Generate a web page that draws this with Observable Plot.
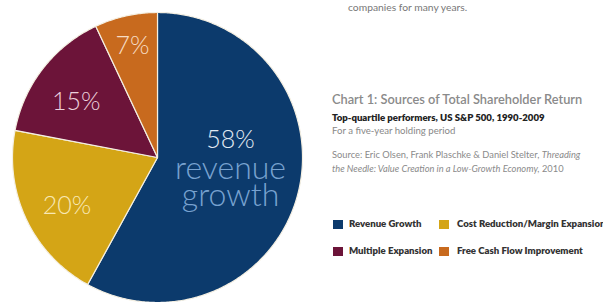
<!DOCTYPE html>
<html>
<head>
<meta charset="utf-8">
<script src="https://cdn.jsdelivr.net/npm/d3@7"></script>
<script src="https://cdn.jsdelivr.net/npm/@observablehq/plot@0.6"></script>
<style>
  html, body { margin: 0; padding: 0; background: #fff; }
  body { width: 603px; height: 302px; overflow: hidden; position: relative; font-family: Lato, "Open Sans", sans-serif; }
  #chart { position: absolute; left: 0; top: 0; }
  .t { position: absolute; white-space: nowrap; }
  #lead { left: 348px; top: 1px; font-size: 10.3px; color: #777; }
  #title { left: 332px; top: 91px; font-size: 12.8px; color: #8a8a8a; font-weight: 600; }
  #sub { left: 332px; top: 112px; font-size: 9.6px; color: #222; font-weight: 800; }
  #sub2 { left: 332px; top: 125px; font-size: 9.6px; color: #888; }
  #src { left: 332px; top: 148px; font-size: 9.3px; color: #8a8a8a; line-height: 13.5px; }
  #legend { position: absolute; left: 333px; top: 220px; }
  .li { position: absolute; white-space: nowrap; font-size: 9.6px; font-weight: 800; color: #333; }
  .sw { position: absolute; width: 10px; height: 9px; }
</style>
</head>
<body>
<div id="chart"></div>
<div class="t" id="lead">companies for many years.</div>
<div class="t" id="title"></div>
<div class="t" id="sub"></div>
<div class="t" id="sub2"></div>
<div class="t" id="src"></div>
<div id="legend"></div>
<script>
// ---- data ----
const categories = ["Revenue Growth", "Cost Reduction/Margin Expansion", "Multiple Expansion", "Free Cash Flow Improvement"];
const shares = [58, 20, 15, 7];
const sliceLabels = ["58%", "20%", "15%", "7%"];
const subLabels = [["revenue", "growth"], [], [], []];
const colors = ["#0c3a6c", "#d4a516", "#6c1439", "#c86a1e"];
const labelColors = ["#e2eaf3", "#f8e8b4", "#ecd0dc", "#f6dcc4"];
const subLabelColor = "#78a2d0";
const titleText = "Chart 1: Sources of Total Shareholder Return";
const subtitleText = "Top-quartile performers, US S&P 500, 1990-2009";
const subtitle2Text = "For a five-year holding period";
const sourcePlain = "Source: Eric Olsen, Frank Plaschke & Daniel Stelter, ";
const sourceItalic1 = "Threading";
const sourceItalic2 = "the Needle: Value Creation in a Low-Growth Economy,";
const sourceYear = " 2010";

// ---- geometry from data (angles clockwise from 12 o'clock) ----
const pie = d3.pie().sort(null).value(d => d)(shares);
const pt = (a, r) => [r * Math.sin(a), r * Math.cos(a)];
function slicePoly(s) {
  const n = Math.max(2, Math.ceil((s.endAngle - s.startAngle) / 0.01));
  const ring = [[0, 0]];
  for (let i = 0; i <= n; i++) ring.push(pt(s.startAngle + (s.endAngle - s.startAngle) * i / n, 1));
  ring.push([0, 0]);
  return ring;
}
const features = pie.map((s, i) => ({
  type: "Feature",
  properties: {cat: categories[i], i},
  geometry: {type: "Polygon", coordinates: [slicePoly(s)]}
}));
const outline = {type: "Polygon", coordinates: [d3.range(0, 361, 2).map(a => pt(a * Math.PI / 180, 1))]};
const labelRadius = [0.52, 0.69, 0.71, 0.79];
const labelDy = [-36, 6, 8, 0];
const labels = pie.map((s, i) => {
  const mid = (s.startAngle + s.endAngle) / 2;
  const [x, y] = pt(mid, labelRadius[i]);
  return {x, y, label: sliceLabels[i], i};
});
const subRows = [];
labels.forEach(d => subLabels[d.i].forEach((w, j) => subRows.push({x: d.x, y: d.y, text: w, j})));

const chart = Plot.plot({
  width: 320,
  height: 302,
  marginLeft: 12, marginRight: 18, marginTop: 12, marginBottom: 0,
  projection: {type: "reflect-y", domain: outline},
  color: {domain: categories, range: colors},
  style: {background: "transparent"},
  marks: [
    Plot.geo(features, {fill: d => d.properties.cat, stroke: "#f4efe2", strokeWidth: 1.2}),
    Plot.text(labels, {x: "x", y: "y", text: "label", fill: d => labelColors[d.i],
      fontSize: 25, fontWeight: 300, fontFamily: "Lato"}),
    ...subRows.map(r => Plot.text([r], {x: "x", y: "y", text: "text",
      fill: subLabelColor, fontSize: 32, fontWeight: 300, fontFamily: "Lato", dy: -8 + r.j * 27}))
  ]
});
// per-label vertical nudges
chart.querySelectorAll("g[aria-label='text']")[0]?.querySelectorAll("text").forEach((t, k) => {
  const cur = +t.getAttribute("dy") || 0;
  t.setAttribute("dy", cur + labelDy[k]);
});
document.getElementById("chart").appendChild(chart);

// ---- right side text ----
document.getElementById("title").textContent = titleText;
document.getElementById("sub").textContent = subtitleText;
document.getElementById("sub2").textContent = subtitle2Text;
const src = document.getElementById("src");
src.append(sourcePlain);
const em = document.createElement("i");
em.textContent = sourceItalic1;
src.append(em);
src.append(document.createElement("br"));
const em2 = document.createElement("i");
em2.textContent = sourceItalic2;
src.append(em2);
src.append(sourceYear);

// ---- legend ----
const legend = document.getElementById("legend");
const lx = [0, 106], ly = [0, 27];
categories.forEach((c, i) => {
  const col = i % 2, row = Math.floor(i / 2);
  const sw = document.createElement("div");
  sw.className = "sw";
  sw.style.left = lx[col] + "px";
  sw.style.top = ly[row] + "px";
  sw.style.background = colors[i];
  legend.appendChild(sw);
  const t = document.createElement("div");
  t.className = "li";
  t.style.left = (lx[col] + (col ? 18 : 16)) + "px";
  t.style.top = (ly[row] - 2) + "px";
  t.textContent = c;
  legend.appendChild(t);
});
</script>
</body>
</html>
